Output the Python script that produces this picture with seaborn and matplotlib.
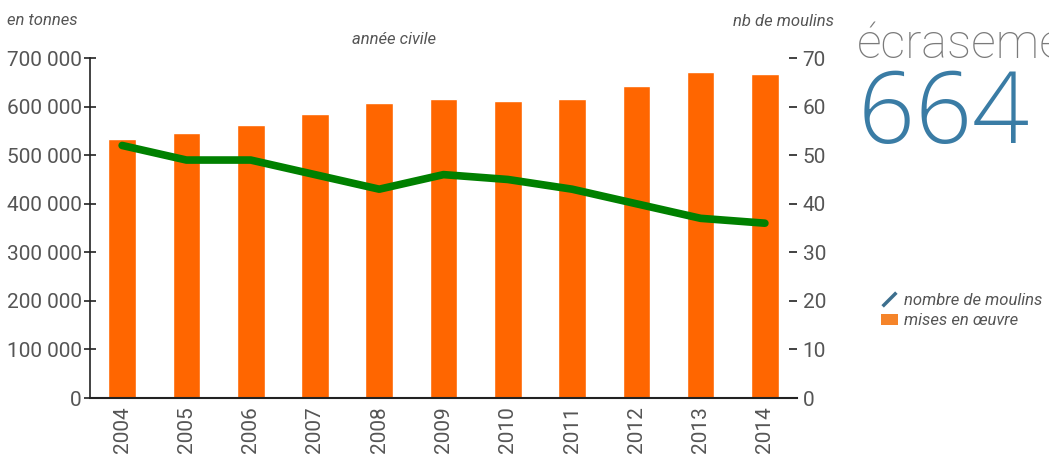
import matplotlib
matplotlib.use("Agg")
import matplotlib.pyplot as plt
import seaborn as sns
import numpy as np
import pandas as pd
from matplotlib.lines import Line2D
from matplotlib.patches import Patch

years = ["2004", "2005", "2006", "2007", "2008", "2009", "2010", "2011", "2012", "2013", "2014"]
tonnes = [533000, 545000, 562000, 585000, 607000, 616000, 611000, 616000, 642000, 671000, 667000]
moulins = [52, 49, 49, 46, 43, 46, 45, 43, 40, 37, 36]
left_ticks = [0, 100000, 200000, 300000, 400000, 500000, 600000, 700000]
right_ticks = [0, 10, 20, 30, 40, 50, 60, 70]

sns.set_theme(style="white")
plt.rcParams['font.family'] = ['Roboto', 'DejaVu Sans']
txt = "#555555"

fig = plt.figure(figsize=(10.49, 4.57), dpi=100)
ax = fig.add_axes([0.0858, 0.129, 0.674, 0.744])

df = pd.DataFrame({"year": years, "tonnes": tonnes, "moulins": moulins})
sns.barplot(data=df, x="year", y="tonnes", color="#ff6600", saturation=1, width=0.43, ax=ax)
ax.set_ylim(0, 700000)
ax.set_xlim(-0.5, len(years) - 0.5)
ax.set_yticks(left_ticks)
ax.set_yticklabels([f"{v:,}".replace(",", " ") for v in left_ticks], fontsize=15, color=txt)
ax.set_xticks(range(len(years)))
ax.set_xticklabels(years, rotation=90, fontsize=15, color=txt)
ax.tick_params(axis="x", which="major", length=0, pad=6)
ax.set_xticks(np.arange(len(years)) + 0.5, minor=True)
ax.tick_params(axis="x", which="minor", length=10, direction="inout", color="#222222", width=1.2)
ax.tick_params(axis="y", left=True, length=8, direction="inout", color="#222222", width=1.2, pad=2)
ax.set_xlabel("")
ax.set_ylabel("")
for s in ["top", "right"]:
    ax.spines[s].set_visible(False)
ax.spines["left"].set_color("#222222")
ax.spines["left"].set_linewidth(1.2)
ax.spines["bottom"].set_color("#222222")
ax.spines["bottom"].set_linewidth(1.5)
ax.grid(False)

ax2 = ax.twinx()
sns.lineplot(x=np.arange(len(years)), y=moulins, color="#008000", lw=5.5, ax=ax2)
ax2.set_ylim(0, 70)
ax2.set_yticks(right_ticks)
ax2.set_yticklabels([str(v) for v in right_ticks], fontsize=15, color=txt)
ax2.tick_params(axis="y", right=True, length=6, direction="in", color="#222222", width=1.2, pad=4)
for s in ["top", "right", "left", "bottom"]:
    ax2.spines[s].set_visible(False)
ax2.grid(False)
ax2.set_ylabel("")

fig.text(0.007, 0.955, "en tonnes", fontsize=12, style="italic", color=txt, va="center")
fig.text(0.376, 0.913, "année civile", fontsize=12, style="italic", color=txt, va="center", ha="center")
fig.text(0.795, 0.952, "nb de moulins", fontsize=12, style="italic", color=txt, va="center", ha="right")

fig.text(0.817, 0.873, "écrasement", fontsize=35, color="#7a7a7a", fontweight="light", va="baseline")
fig.text(0.818, 0.688, "664 950", fontsize=72, color="#3a7ca5", fontweight="light",
         family=["Open Sans", "DejaVu Sans"], va="baseline")

handles = [Line2D([], [], color="#3d6f8e", marker=(2, 0, -45), linestyle="None", markersize=14, markeredgewidth=2.5),
           Patch(facecolor="#f5842a", edgecolor="none")]
fig.legend(handles, ["nombre de moulins", "mises en œuvre"], loc="upper left", bbox_to_anchor=(0.832, 0.378),
           frameon=False, handlelength=1.0, handletextpad=0.4, labelspacing=0.35, borderpad=0,
           prop={"size": 12, "style": "italic"}, labelcolor=txt)

fig.savefig("out.png", dpi=100)
